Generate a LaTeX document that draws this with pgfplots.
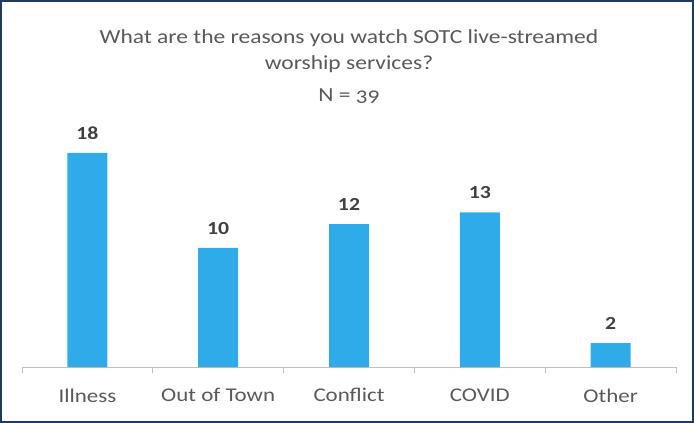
\documentclass[border=0pt]{standalone}
\usepackage{graphicx}
\usepackage{pgfplots}
\pgfplotsset{compat=1.18}
\usepackage{fontspec}
\setmainfont{Carlito}
\definecolor{barblue}{RGB}{48,171,233}
\definecolor{txtgray}{RGB}{89,89,89}
\definecolor{lblgray}{RGB}{64,64,64}
\definecolor{axgray}{RGB}{191,191,191}
\definecolor{navy}{RGB}{31,56,100}
\newcommand{\sx}[1]{\scalebox{1.18}[1]{#1}}
\begin{document}
\begin{tikzpicture}[x=1bp,y=1bp]
\begin{axis}[
  at={(0,0)}, anchor=south west,
  scale only axis, width=654bp, height=238bp,
  xmin=-0.5, xmax=4.5, ymin=0, ymax=20,
  axis x line=bottom, axis y line=none,
  axis line style={axgray, line width=1bp, -},
  xtick={0,1,2,3,4},
  xticklabels={\sx{Illness}, \sx{Out of Town}, \sx{Conflict}, \sx{COVID}, \sx{Other}},
  major tick length=0pt,
  minor xtick={-0.5,0.5,1.5,2.5,3.5,4.5},
  minor tick length=6bp,
  tick align=outside,
  minor tick style={axgray, line width=1bp},
  xticklabel style={font=\fontsize{19.5}{23}\selectfont, text=txtgray, yshift=-18bp},
  ybar, bar width=40bp,
  /pgf/number format/assume math mode=true,
  nodes near coords={\sx{\pgfmathprintnumber{\pgfplotspointmeta}}},
  nodes near coords style={font=\fontsize{18.5}{22}\selectfont\bfseries, text=lblgray, yshift=10bp},
  clip=false,
]
\addplot[fill=barblue, draw=none] coordinates {(0,18) (1,10) (2,12) (3,13) (4,2)};
\end{axis}
\begin{scope}[every node/.style={text=txtgray, font=\fontsize{20}{25}\selectfont}]
\node at (327bp,329bp) {\sx{What are the reasons you watch SOTC live-streamed}};
\node at (327bp,303bp) {\sx{worship services?}};
\node at (327bp,271bp) {\sx{\addfontfeatures{Numbers=OldStyle}N = 39}};
\end{scope}
\draw[navy, line width=2bp] (-21bp,-55bp) rectangle (671bp,366bp);
\end{tikzpicture}
\end{document}
